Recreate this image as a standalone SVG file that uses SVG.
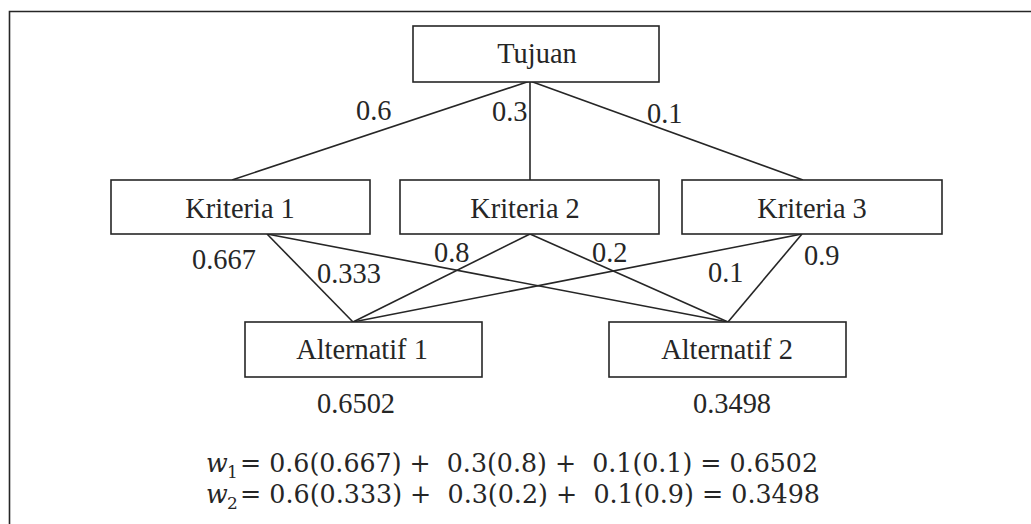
<svg xmlns="http://www.w3.org/2000/svg" width="1031" height="524" viewBox="0 0 1031 524">
  <style>
    .box { fill: #ffffff; stroke: #262626; stroke-width: 1.6; }
    .edge { stroke: #262626; stroke-width: 1.6; fill: none; }
    text { fill: #262626; }
  </style>
  <rect width="1031" height="524" fill="#ffffff"/>

  <!-- outer frame (open to the right and bottom) -->
  <path class="edge" d="M9.5,524 V11.5 H1031"/>

  <!-- connectors -->
  <g id="connectors">
    <line class="edge" x1="530" y1="81" x2="232" y2="180"/>
    <line class="edge" x1="530" y1="81" x2="530" y2="180"/>
    <line class="edge" x1="530" y1="81" x2="803" y2="180"/>
    <line class="edge" x1="267" y1="234" x2="353" y2="322"/>
    <line class="edge" x1="267" y1="234" x2="728" y2="322"/>
    <line class="edge" x1="530" y1="234" x2="353" y2="322"/>
    <line class="edge" x1="530" y1="234" x2="728" y2="322"/>
    <line class="edge" x1="802" y1="234" x2="353" y2="322"/>
    <line class="edge" x1="802" y1="234" x2="728" y2="322"/>
  </g>

  <!-- weight labels -->
  <g id="weights" font-family="Liberation Serif, Times New Roman, serif" font-size="28.4">
    <text x="356" y="120">0.6</text>
    <text x="492" y="121">0.3</text>
    <text x="647" y="123">0.1</text>
    <text x="192" y="269">0.667</text>
    <text x="317" y="283">0.333</text>
    <text x="434" y="262">0.8</text>
    <text x="592" y="262">0.2</text>
    <text x="708" y="282">0.1</text>
    <text x="804" y="265">0.9</text>
  </g>

  <g id="nodes" font-family="Liberation Serif, Times New Roman, serif" font-size="28.4" text-anchor="middle">
    <g id="tujuan">
      <rect class="box" x="413" y="26" width="246" height="56"/>
      <text x="537" y="63">Tujuan</text>
    </g>
    <g id="kriteria1">
      <rect class="box" x="111" y="180" width="259" height="54"/>
      <text x="240" y="218">Kriteria 1</text>
    </g>
    <g id="kriteria2">
      <rect class="box" x="400" y="180" width="259" height="54"/>
      <text x="525" y="218">Kriteria 2</text>
    </g>
    <g id="kriteria3">
      <rect class="box" x="682" y="180" width="260" height="54"/>
      <text x="812" y="218">Kriteria 3</text>
    </g>
    <g id="alternatif1">
      <rect class="box" x="245" y="322" width="237" height="55"/>
      <text x="362" y="359">Alternatif 1</text>
      <text x="356" y="412.5">0.6502</text>
    </g>
    <g id="alternatif2">
      <rect class="box" x="609" y="322" width="237" height="55"/>
      <text x="727" y="359">Alternatif 2</text>
      <text x="732" y="412.5">0.3498</text>
    </g>
  </g>

  <!-- weighted sums -->
  <g id="formulas" font-family="DejaVu Serif, serif">
    <text x="206" y="472" font-size="25.4" font-style="italic">w</text>
    <text x="227" y="478" font-size="17">1</text>
    <text x="240" y="472" font-size="25.4" xml:space="preserve" textLength="578" lengthAdjust="spacingAndGlyphs">= 0.6(0.667) +  0.3(0.8) +  0.1(0.1) = 0.6502</text>
    <text x="206" y="503" font-size="25.4" font-style="italic">w</text>
    <text x="227" y="509" font-size="17">2</text>
    <text x="240" y="503" font-size="25.4" xml:space="preserve" textLength="580" lengthAdjust="spacingAndGlyphs">= 0.6(0.333) +  0.3(0.2) +  0.1(0.9) = 0.3498</text>
  </g>
</svg>
